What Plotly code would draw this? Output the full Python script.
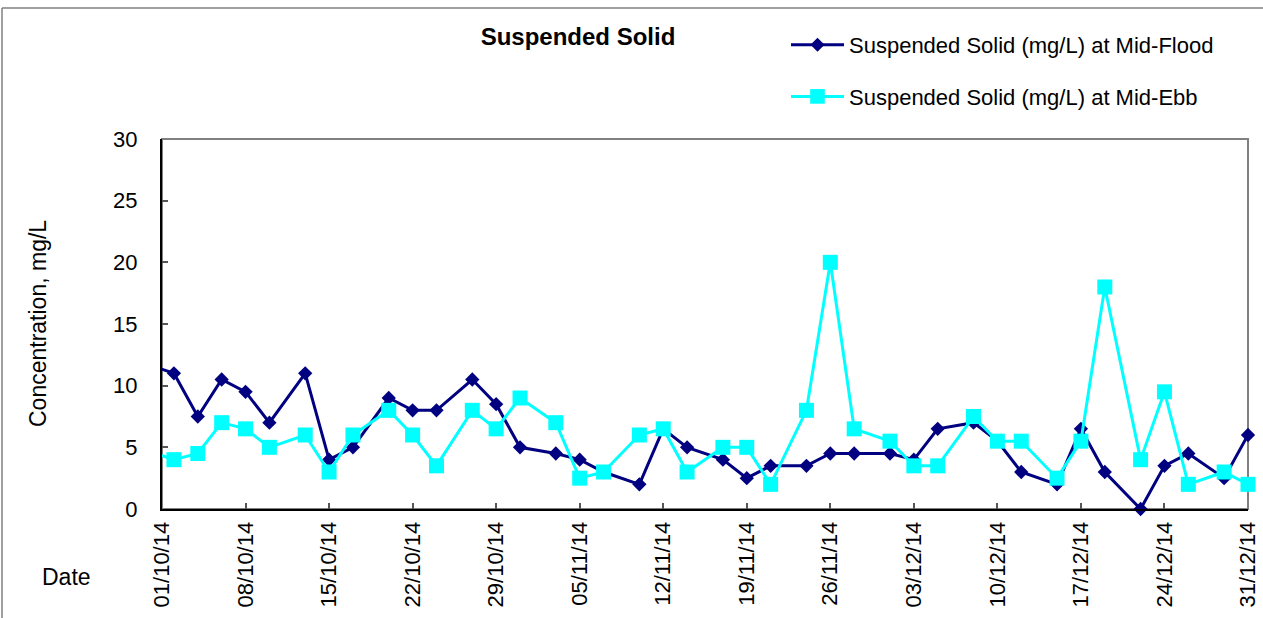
import plotly.graph_objects as go

dates = ["2014-09-29", "2014-10-02", "2014-10-04", "2014-10-06", "2014-10-08", "2014-10-10",
         "2014-10-13", "2014-10-15", "2014-10-17", "2014-10-20", "2014-10-22", "2014-10-24",
         "2014-10-27", "2014-10-29", "2014-10-31", "2014-11-03", "2014-11-05", "2014-11-07",
         "2014-11-10", "2014-11-12", "2014-11-14", "2014-11-17", "2014-11-19", "2014-11-21",
         "2014-11-24", "2014-11-26", "2014-11-28", "2014-12-01", "2014-12-03", "2014-12-05",
         "2014-12-08", "2014-12-10", "2014-12-12", "2014-12-15", "2014-12-17", "2014-12-19",
         "2014-12-22", "2014-12-24", "2014-12-26", "2014-12-29", "2014-12-31"]

mid_flood = [12, 11, 7.5, 10.5, 9.5, 7, 11, 4, 5, 9, 8, 8, 10.5, 8.5, 5, 4.5, 4, 3, 2, 6.5, 5,
             4, 2.5, 3.5, 3.5, 4.5, 4.5, 4.5, 4, 6.5, 7, 5.5, 3, 2, 6.5, 3, 0, 3.5, 4.5, 2.5, 6]

mid_ebb = [5, 4, 4.5, 7, 6.5, 5, 6, 3, 6, 8, 6, 3.5, 8, 6.5, 9, 7, 2.5, 3, 6, 6.5, 3, 5, 5, 2,
           8, 20, 6.5, 5.5, 3.5, 3.5, 7.5, 5.5, 5.5, 2.5, 5.5, 18, 4, 9.5, 2, 3, 2]

x_range = ["2014-10-01", "2014-12-31"]
y_ticks = [0, 5, 10, 15, 20, 25, 30]

W, H = 1263, 618
L, R, T, B = 162, 15, 139, 109
pw, ph = W - L - R, H - T - B

def px_x(p):
    return (p - L) / pw

def px_y(p):
    return (H - B - p) / ph

FONT = "Liberation Sans, Arial, sans-serif"

# hide markers for the point that lies before the axis range
flood_sizes = [0 if d < x_range[0] else 11 for d in dates]
ebb_sizes = [0 if d < x_range[0] else 15 for d in dates]

fig = go.Figure()
fig.add_trace(go.Scatter(
    x=dates, y=mid_flood, mode="lines+markers",
    name="Suspended Solid (mg/L) at Mid-Flood",
    line=dict(color="#000080", width=3),
    marker=dict(symbol="diamond", size=flood_sizes, color="#000080", opacity=1,
                line=dict(width=0, color="#000080")),
    cliponaxis=False, legendgroup="a",
))
fig.add_trace(go.Scatter(
    x=dates, y=mid_ebb, mode="lines+markers",
    name="Suspended Solid (mg/L) at Mid-Ebb",
    line=dict(color="#00FFFF", width=3),
    marker=dict(symbol="square", size=ebb_sizes, color="#00FFFF", opacity=1,
                line=dict(width=0, color="#00FFFF")),
    cliponaxis=False, legendgroup="b",
))

fig.update_layout(
    width=W, height=H,
    margin=dict(l=L, r=R, t=T, b=B, pad=0, autoexpand=False),
    paper_bgcolor="white", plot_bgcolor="white",
    font=dict(family=FONT, size=22, color="black"),
    title=dict(text="<b>Suspended Solid</b>", x=578 / W, xref="container", xanchor="center",
               y=1 - 37 / H, yref="container", yanchor="middle",
               font=dict(family=FONT, size=24, color="black")),
    showlegend=True,
    legend=dict(x=px_x(786), xanchor="left", y=1 - 24 / H, yref="container", yanchor="top",
                font=dict(family=FONT, size=22, color="black"),
                bgcolor="rgba(0,0,0,0)", tracegroupgap=20, itemwidth=53),
    xaxis=dict(type="date", range=x_range, tick0=x_range[0], dtick=7 * 86400000,
               tickformat="%d/%m/%y", tickangle=-90, ticks="inside", ticklen=6,
               tickcolor="#555555", tickwidth=1.5, automargin=False,
               showline=True, linecolor="black", linewidth=2, showgrid=False, zeroline=False,
               ticklabelstandoff=2, tickfont=dict(family=FONT, size=22, color="black")),
    yaxis=dict(range=[0, 30], tickvals=y_ticks, ticks="inside", ticklen=6,
               tickcolor="#555555", tickwidth=1.5, automargin=False,
               showline=True, linecolor="black", linewidth=2, showgrid=False, zeroline=False,
               ticklabelstandoff=18, tickfont=dict(family=FONT, size=22, color="black")),
    shapes=[
        dict(type="rect", xref="paper", yref="paper", x0=0, x1=1, y0=0, y1=1,
             line=dict(color="#808080", width=2), layer="below"),
        dict(type="line", xref="paper", yref="paper", x0=px_x(2), x1=px_x(W), y0=px_y(8), y1=px_y(8),
             line=dict(color="#808080", width=1.5)),
        dict(type="line", xref="paper", yref="paper", x0=px_x(2), x1=px_x(2), y0=px_y(8), y1=px_y(H),
             line=dict(color="#808080", width=1.5)),
    ],
    annotations=[
        dict(text="Concentration, mg/L", xref="paper", yref="paper", x=px_x(38), y=0.5,
             textangle=-90, showarrow=False, xanchor="center", yanchor="middle",
             font=dict(family=FONT, size=23, color="black")),
        dict(text="Date", xref="paper", yref="paper", x=px_x(40), y=px_y(577),
             showarrow=False, xanchor="left", yanchor="middle",
             font=dict(family=FONT, size=23, color="black")),
    ],
)

fig.write_html("out.html", config={"displayModeBar": False},
               post_script="document.body.style.margin='0';document.body.style.overflow='hidden';")
